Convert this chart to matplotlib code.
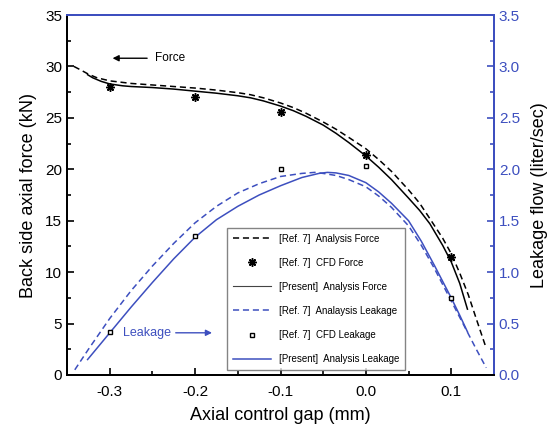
import numpy as np
import matplotlib
matplotlib.use('Agg')
import matplotlib.pyplot as plt
from matplotlib.lines import Line2D
from matplotlib.ticker import MultipleLocator

plt.rcParams['font.family'] = ['Liberation Sans', 'DejaVu Sans']

blue = '#3d4fbf'

# Ref.7 analysis force (dashed black)
ref_force_x = [-0.342, -0.335, -0.325, -0.315, -0.3, -0.275, -0.25, -0.225, -0.2, -0.175, -0.15, -0.135,
               -0.12, -0.1, -0.085, -0.07, -0.05, -0.035, -0.02, 0.0, 0.015, 0.03, 0.05, 0.063, 0.075,
               0.09, 0.1, 0.11, 0.12, 0.13, 0.141]
ref_force_y = [30.0, 29.7, 29.25, 28.9, 28.6, 28.35, 28.2, 28.05, 27.9, 27.7, 27.45, 27.25,
               26.95, 26.45, 26.0, 25.45, 24.6, 23.9, 23.1, 22.0, 20.95, 19.8, 18.0, 16.7, 15.2,
               13.3, 11.8, 9.9, 7.8, 5.3, 2.6]

# Present analysis force (solid black)
pre_force_x = [-0.326, -0.32, -0.31, -0.3, -0.285, -0.275, -0.25, -0.225, -0.2, -0.175, -0.15, -0.135,
               -0.12, -0.1, -0.085, -0.07, -0.05, -0.035, -0.02, 0.0, 0.015, 0.03, 0.05, 0.063, 0.075,
               0.09, 0.1, 0.11, 0.119]
pre_force_y = [29.2, 28.9, 28.55, 28.3, 28.12, 28.05, 27.95, 27.8, 27.6, 27.4, 27.15, 26.95,
               26.65, 26.15, 25.7, 25.15, 24.3, 23.5, 22.6, 21.3, 20.2, 19.0, 17.2, 16.0, 14.7,
               12.6, 11.0, 8.9, 6.4]

# CFD points
cfd_x = [-0.3, -0.2, -0.1, 0.0, 0.1]
cfd_force = [28.0, 27.0, 25.6, 21.4, 11.5]
cfd_leak = [0.42, 1.35, 2.0, 2.03, 0.75]

# Ref.7 analysis leakage (dashed blue)
ref_leak_x = [-0.341, -0.325, -0.3, -0.275, -0.25, -0.225, -0.2, -0.175, -0.15, -0.125, -0.1,
              -0.075, -0.06, -0.05, -0.035, -0.02, 0.0, 0.015, 0.03, 0.05, 0.065, 0.08, 0.1,
              0.11, 0.12, 0.13, 0.141]
ref_leak_y = [0.05, 0.25, 0.55, 0.82, 1.06, 1.28, 1.48, 1.64, 1.77, 1.86, 1.93,
              1.96, 1.97, 1.96, 1.94, 1.90, 1.83, 1.74, 1.63, 1.45, 1.26, 1.04, 0.72,
              0.56, 0.40, 0.24, 0.07]

# Present analysis leakage (solid blue)
pre_leak_x = [-0.326, -0.3, -0.275, -0.25, -0.225, -0.2, -0.175, -0.15, -0.125, -0.1,
              -0.075, -0.055, -0.045, -0.035, -0.02, 0.0, 0.015, 0.03, 0.05, 0.065, 0.08,
              0.1, 0.11, 0.119]
pre_leak_y = [0.15, 0.41, 0.66, 0.9, 1.13, 1.34, 1.51, 1.64, 1.75, 1.84,
              1.92, 1.96, 1.97, 1.965, 1.94, 1.87, 1.78, 1.67, 1.50, 1.30, 1.07,
              0.75, 0.58, 0.42]

fig = plt.figure(figsize=(5.5, 4.3), dpi=100)
ax = fig.add_axes([0.122, 0.128, 0.776, 0.837])
ax2 = ax.twinx()

ax.plot(ref_force_x, ref_force_y, color='black', ls=(0, (4, 2.5)), lw=1.1)
ax.plot(pre_force_x, pre_force_y, color='black', ls='-', lw=1.1)
ax.plot(cfd_x, cfd_force, ls='none', marker=(8, 2, 0), ms=6, mew=1.1, color='black')

ax2.plot(ref_leak_x, ref_leak_y, color=blue, ls=(0, (4, 2.5)), lw=1.1)
ax2.plot(pre_leak_x, pre_leak_y, color=blue, ls='-', lw=1.1)
ax2.plot(cfd_x, cfd_leak, ls='none', marker='s', ms=3.5, mfc='white', mec='black', mew=1.0)

ax.set_xlim(-0.35, 0.15)
ax.set_ylim(0, 35)
ax2.set_ylim(0, 3.5)

ax.xaxis.set_minor_locator(MultipleLocator(0.05))
ax.yaxis.set_major_locator(MultipleLocator(5))
ax.yaxis.set_minor_locator(MultipleLocator(2.5))
ax2.yaxis.set_major_locator(MultipleLocator(0.5))
ax2.yaxis.set_minor_locator(MultipleLocator(0.25))
ax.set_xticks([-0.3, -0.2, -0.1, 0.0, 0.1])
ax.set_xticklabels(['-0.3', '-0.2', '-0.1', '0.0', '0.1'])

ax.tick_params(which='both', direction='in', labelsize=11, top=False)
ax.tick_params(which='major', length=5, width=1.2)
ax.tick_params(which='minor', length=3, width=1.2)
ax.tick_params(axis='x', pad=7)
ax2.tick_params(which='both', direction='in', labelsize=11, colors=blue)
ax2.tick_params(which='major', length=5, width=1.2)
ax2.tick_params(which='minor', length=3, width=1.2)

for a in (ax, ax2):
    for s in ('left', 'bottom', 'right', 'top'):
        a.spines[s].set_linewidth(1.4)
    a.spines['top'].set_color(blue)
    a.spines['right'].set_color(blue)

ax.set_xlabel('Axial control gap (mm)', fontsize=13, labelpad=6)
ax.set_ylabel('Back side axial force (kN)', fontsize=13, labelpad=6)
ax2.set_ylabel('Leakage flow (liter/sec)', fontsize=13, labelpad=8, color='black')

# annotations
ax.annotate('', xy=(-0.3, 30.8), xytext=(-0.253, 30.8),
            arrowprops=dict(arrowstyle='-|>', color='black', lw=1.0, mutation_scale=9))
ax.text(-0.247, 30.8, 'Force', fontsize=8.5, va='center', ha='left')
ax.text(-0.284, 4.1, 'Leakage', fontsize=9, va='center', ha='left', color=blue)
ax.annotate('', xy=(-0.177, 4.1), xytext=(-0.226, 4.1),
            arrowprops=dict(arrowstyle='-|>', color=blue, lw=1.0, mutation_scale=9))

handles = [
    Line2D([], [], color='black', ls=(0, (4, 2.5)), lw=1.1),
    Line2D([], [], ls='none', marker=(8, 2, 0), ms=6, mew=1.1, color='black'),
    Line2D([], [], color='#444444', ls='-', lw=0.8),
    Line2D([], [], color=blue, ls=(0, (4, 2.5)), lw=1.1),
    Line2D([], [], ls='none', marker='s', ms=3.5, mfc='white', mec='black', mew=1.0),
    Line2D([], [], color=blue, ls='-', lw=1.1),
]
labels = ['[Ref. 7]  Analysis Force', '[Ref. 7]  CFD Force', '[Present]  Analysis Force',
          '[Ref. 7]  Analaysis Leakage', '[Ref. 7]  CFD Leakage', '[Present]  Analysis Leakage']
leg = ax2.legend(handles, labels, loc='lower left', bbox_to_anchor=(0.375, 0.014),
                 fontsize=7, frameon=True, fancybox=False, edgecolor='#666666',
                 handlelength=3.9, labelspacing=1.45, borderpad=0.6, handletextpad=0.8,
                 borderaxespad=0)
leg.get_frame().set_linewidth(1.0)

fig.savefig('out.png', dpi=100)
